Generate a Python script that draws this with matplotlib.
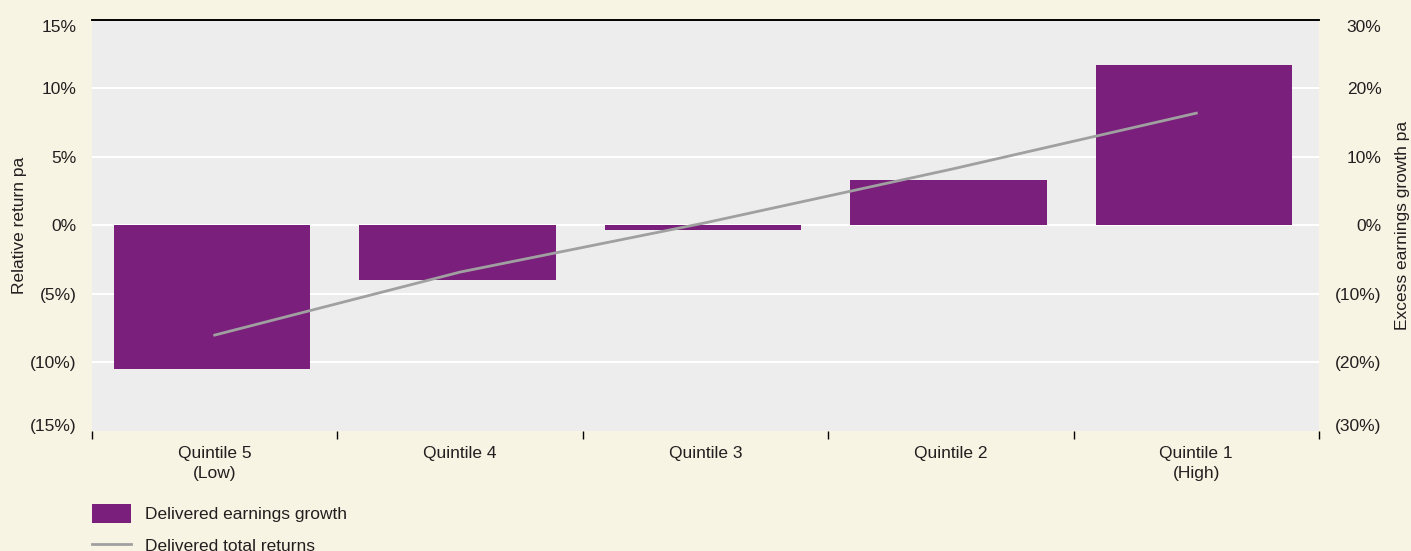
import numpy as np
import matplotlib.pyplot as plt
import matplotlib.transforms as mtransforms
from matplotlib.patches import Patch
from matplotlib.lines import Line2D

plt.rcParams['font.family'] = ['Liberation Sans', 'DejaVu Sans']

categories = ['Quintile 5\n(Low)', 'Quintile 4', 'Quintile 3', 'Quintile 2', 'Quintile 1\n(High)']
earnings_growth = [-21.0, -8.0, -0.6, 6.7, 23.4]   # right axis, % pa
total_returns = [-8.0, -3.4, 0.2, 4.1, 8.2]        # left axis, % pa

left_ticks = [-15, -10, -5, 0, 5, 10, 15]
right_ticks = [-30, -20, -10, 0, 10, 20, 30]

bg = '#F8F4E3'
plot_bg = '#EDEDED'
purple = '#7B1F7D'
grey = '#A0A0A0'
txt = '#231F20'
fs = 12.5


def pct(v):
    return f'({abs(v)}%)' if v < 0 else f'{v}%'


fig = plt.figure(figsize=(14.11, 5.51), dpi=100, facecolor=bg)
ax = fig.add_axes([0.0652, 0.2178, 0.8696, 0.7459])
ax2 = ax.twinx()

x = np.arange(len(categories))

ax2.patch.set_visible(True)
ax2.patch.set_facecolor(plot_bg)
ax2.bar(x - 0.01, earnings_growth, width=0.8, color=purple, zorder=2)
ax2.set_ylim(-30, 30)
ax2.set_yticks(right_ticks)
ax2.set_yticklabels([pct(v) for v in right_ticks], ha='right')
ax2.tick_params(axis='y', length=0, pad=45, labelsize=fs, colors=txt)
ax2.set_ylabel('Excess earnings growth pa', fontsize=fs, labelpad=10, color=txt)
for v in right_ticks[1:-1]:
    ax2.axhline(v, color='white', lw=1.5, zorder=1)

ax.set_zorder(ax2.get_zorder() + 1)
ax.patch.set_visible(False)
ax.plot(x, total_returns, color=grey, lw=2, zorder=3)
ax.set_ylim(-15, 15)
ax.set_yticks(left_ticks)
ax.set_yticklabels([pct(v) for v in left_ticks])
ax.tick_params(axis='y', length=0, pad=11, labelsize=fs, colors=txt)
ax.set_ylabel('Relative return pa', fontsize=fs, labelpad=2, color=txt)

# end labels sit just inside the plot area
for a in (ax, ax2):
    labs = a.get_yticklabels()
    labs[0].set_transform(labs[0].get_transform() + mtransforms.ScaledTranslation(0, 6 / 100, fig.dpi_scale_trans))
    labs[-1].set_transform(labs[-1].get_transform() + mtransforms.ScaledTranslation(0, -6 / 100, fig.dpi_scale_trans))

ax.set_xlim(-0.5, len(categories) - 0.5)
ax.set_xticks(np.arange(len(categories) + 1) - 0.5)
ax.set_xticklabels([])
ax.set_xticks(x, minor=True)
ax.set_xticklabels(categories, minor=True, linespacing=1.4)
ax.tick_params(axis='x', which='major', length=6, width=1, color='black', direction='out')
ax.tick_params(axis='x', which='minor', length=0, pad=11, labelsize=fs, colors=txt)

for a in (ax, ax2):
    for s in ('left', 'right', 'bottom'):
        a.spines[s].set_visible(False)
    a.spines['top'].set_color('black')
    a.spines['top'].set_linewidth(1.2)

handles = [Patch(facecolor=purple, edgecolor='none'), Line2D([0], [0], color=grey, lw=2)]
leg = fig.legend(handles, ['Delivered earnings growth', 'Delivered total returns'],
                 loc='upper left', bbox_to_anchor=(0.0655, 0.085), frameon=False,
                 fontsize=fs, handlelength=2.2, handleheight=1.3, labelspacing=0.75,
                 handletextpad=0.8, borderaxespad=0, borderpad=0)
for t in leg.get_texts():
    t.set_color(txt)

fig.savefig('out.png', dpi=100, facecolor=bg)
